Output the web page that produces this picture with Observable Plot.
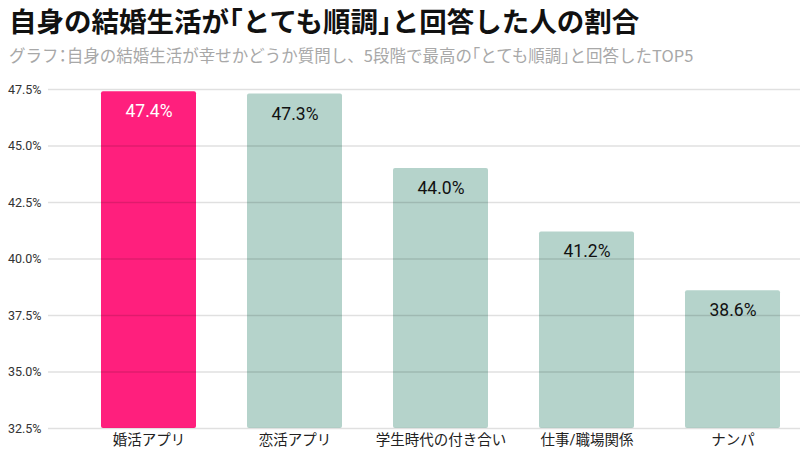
<!DOCTYPE html>
<html>
<head>
<meta charset="utf-8">
<script src="https://cdn.jsdelivr.net/npm/d3@7"></script>
<script src="https://cdn.jsdelivr.net/npm/@observablehq/plot@0.6"></script>
<style>
  html, body { margin: 0; padding: 0; background: #fff; }
  body { width: 800px; height: 455px; overflow: hidden; font-family: Roboto, "Noto Sans CJK JP", sans-serif; }
  #title { position: absolute; left: 9px; top: 1px; font-family: "Noto Sans CJK JP", sans-serif; font-weight: 700; font-size: 27.5px; line-height: 38px; color: #111; white-space: nowrap; }
  #subtitle { position: absolute; left: 9px; top: 43px; font-family: "Noto Sans CJK JP", sans-serif; font-size: 16.5px; line-height: 24px; color: #a8a8a8; white-space: nowrap; }
  .h { font-feature-settings: "halt" 1; }
  #chart { position: absolute; left: 0; top: 72px; }
</style>
</head>
<body>
<div id="title">自身の結婚生活が<span class="h">「</span>とても順調<span class="h">」</span>と回答した人の割合</div>
<div id="subtitle">グラフ<span class="h">：</span>自身の結婚生活が幸せかどうか質問し、5段階で最高の<span class="h">「</span>とても順調<span class="h">」</span>と回答したTOP5</div>
<div id="chart"></div>
<script>
const categories = ["婚活アプリ", "恋活アプリ", "学生時代の付き合い", "仕事/職場関係", "ナンパ"];
const values = [47.4, 47.3, 44.0, 41.2, 38.6];
const highlight = ["婚活アプリ"];
const yTicks = [32.5, 35.0, 37.5, 40.0, 42.5, 45.0, 47.5];

const data = categories.map((c, i) => ({category: c, value: values[i], hi: highlight.includes(c)}));

const chart = Plot.plot({
  width: 800,
  height: 383,
  marginTop: 17,
  marginBottom: 27,
  marginLeft: 48,
  marginRight: 0,
  style: {fontFamily: 'Roboto, "Noto Sans CJK JP", sans-serif', fontSize: "12px", color: "#333", background: "#fff"},
  x: {domain: categories, paddingInner: 0.35, paddingOuter: 0.24, align: 0.73, label: null, tickSize: 0},
  y: {domain: [32.5, 47.5], ticks: yTicks, tickFormat: d => d.toFixed(1) + "%", label: null, tickSize: 0, tickPadding: 7},
  marks: [
    Plot.barY(data, {x: "category", y1: 32.5, y2: "value", fill: d => d.hi ? "#ff1f7d" : "#b5d3cb", rx: 2}),
    Plot.ruleY(yTicks, {stroke: "#000", strokeOpacity: 0.12, strokeWidth: 1.5}),
    Plot.text(data, {x: "category", y: "value", text: d => d.value.toFixed(1) + "%", dy: 20, fontSize: 17.5, fill: d => d.hi ? "#fff" : "#111"}),
    Plot.axisY({ticks: yTicks, tickFormat: d => d.toFixed(1) + "%", tickSize: 0, tickPadding: 7, fontSize: 12.5, fill: "#333", label: null}),
    Plot.axisX({tickSize: 0, tickPadding: 6, fontSize: 14.5, fill: "#222", label: null})
  ]
});
document.getElementById("chart").appendChild(chart);
</script>
</body>
</html>
